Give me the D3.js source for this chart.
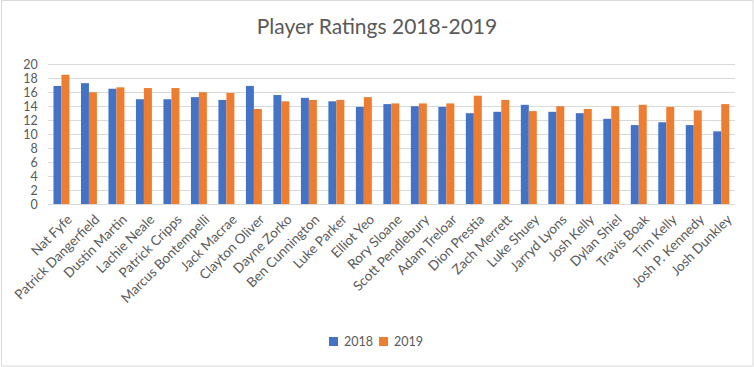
<!DOCTYPE html>
<html>
<head>
<meta charset="utf-8">
<script src="https://cdn.jsdelivr.net/npm/d3@7"></script>
<style>
  body { margin: 0; background: #fff; }
  svg { display: block; font-family: Lato, "Open Sans", sans-serif; }
</style>
</head>
<body>
<svg id="chart" width="754" height="367"></svg>
<script>
// players in chart order
const players = [
  "Nat Fyfe", "Patrick Dangerfield", "Dustin Martin", "Lachie Neale", "Patrick Cripps",
  "Marcus Bontempelli", "Jack Macrae", "Clayton Oliver", "Dayne Zorko", "Ben Cunnington",
  "Luke Parker", "Elliot Yeo", "Rory Sloane", "Scott Pendlebury", "Adam Treloar",
  "Dion Prestia", "Zach Merrett", "Luke Shuey", "Jarryd Lyons", "Josh Kelly",
  "Dylan Shiel", "Travis Boak", "Tim Kelly", "Josh P. Kennedy", "Josh Dunkley"
];
const ratings2018 = [16.9, 17.3, 16.5, 15.0, 15.0, 15.3, 14.9, 16.9, 15.6, 15.2,
  14.7, 13.9, 14.3, 14.0, 13.9, 13.0, 13.2, 14.2, 13.2, 13.0, 12.2, 11.3, 11.7, 11.3, 10.4];
const ratings2019 = [18.5, 16.0, 16.7, 16.6, 16.6, 16.0, 15.9, 13.6, 14.7, 14.9,
  14.9, 15.3, 14.4, 14.4, 14.4, 15.5, 14.9, 13.3, 14.0, 13.6, 14.0, 14.2, 13.9, 13.4, 14.3];
const seriesNames = ["2018", "2019"];
const yTicks = [0, 2, 4, 6, 8, 10, 12, 14, 16, 18, 20];

const colors = ["#4472C4", "#ED7D31"];
const textColor = "#595959";
const gridColor = "#d9d9d9";

const svg = d3.select("#chart");
const width = 754, height = 367;
const margin = { left: 47.7, right: 19, top: 64.3, bottom: 163 };

// chart border
svg.append("rect")
  .attr("x", 1.5).attr("y", 0.5)
  .attr("width", width - 2.5).attr("height", height - 1.5)
  .attr("fill", "#fff")
  .attr("stroke", gridColor);

svg.append("text")
  .attr("x", width / 2).attr("y", 34)
  .attr("text-anchor", "middle")
  .attr("fill", textColor)
  .attr("font-size", 21)
  .text("Player Ratings 2018-2019");

const x = d3.scaleBand()
  .domain(players)
  .range([margin.left, width - margin.right])
  .paddingInner(0.42)
  .paddingOuter(0.21);

const xSeries = d3.scaleBand()
  .domain(seriesNames)
  .range([0, x.bandwidth()]);

const y = d3.scaleLinear()
  .domain([0, 20])
  .range([height - margin.bottom, margin.top]);

// gridlines
svg.append("g")
  .selectAll("line")
  .data(yTicks)
  .enter()
  .append("line")
  .attr("x1", margin.left)
  .attr("x2", width - margin.right)
  .attr("y1", (d) => Math.round(y(d)) + 0.5)
  .attr("y2", (d) => Math.round(y(d)) + 0.5)
  .attr("stroke", gridColor)
  .attr("stroke-width", 1);

// y axis labels
const yAxis = svg.append("g")
  .attr("transform", `translate(${margin.left},0)`)
  .call(d3.axisLeft(y).tickValues(yTicks).tickSize(0).tickPadding(10));
yAxis.select(".domain").remove();
yAxis.selectAll("text")
  .attr("fill", textColor)
  .attr("font-size", 12.5)
  .attr("font-family", "Lato, sans-serif");

// bars
const rows = players.map((p, i) => ({ name: p, values: [ratings2018[i], ratings2019[i]] }));

const group = svg.append("g")
  .selectAll("g")
  .data(rows)
  .enter()
  .append("g")
  .attr("transform", (d) => `translate(${x(d.name)},0)`);

group.selectAll("rect")
  .data((d) => d.values.map((v, k) => ({ key: seriesNames[k], value: v, k })))
  .enter()
  .append("rect")
  .attr("x", (d) => xSeries(d.key))
  .attr("width", xSeries.bandwidth())
  .attr("y", (d) => y(d.value))
  .attr("height", (d) => y(0) - y(d.value))
  .attr("fill", (d) => colors[d.k]);

// x axis labels, rotated
svg.append("g")
  .selectAll("text")
  .data(players)
  .enter()
  .append("text")
  .attr("transform", (d) => `translate(${x(d) + x.bandwidth() / 2 + 8},${y(0) + 13}) rotate(-45)`)
  .attr("text-anchor", "end")
  .attr("dy", "0.35em")
  .attr("fill", textColor)
  .attr("font-size", 13.5)
  .text((d) => d);

// legend
const legend = svg.append("g")
  .attr("transform", "translate(329,337)");

const legendItem = legend.selectAll("g")
  .data(seriesNames)
  .enter()
  .append("g")
  .attr("transform", (d, i) => `translate(${i * 50},0)`);

legendItem.append("rect")
  .attr("width", 9).attr("height", 9)
  .attr("fill", (d, i) => colors[i]);

legendItem.append("text")
  .attr("x", 15).attr("y", 9)
  .attr("fill", textColor)
  .attr("font-size", 12.5)
  .text((d) => d);
</script>
</body>
</html>
